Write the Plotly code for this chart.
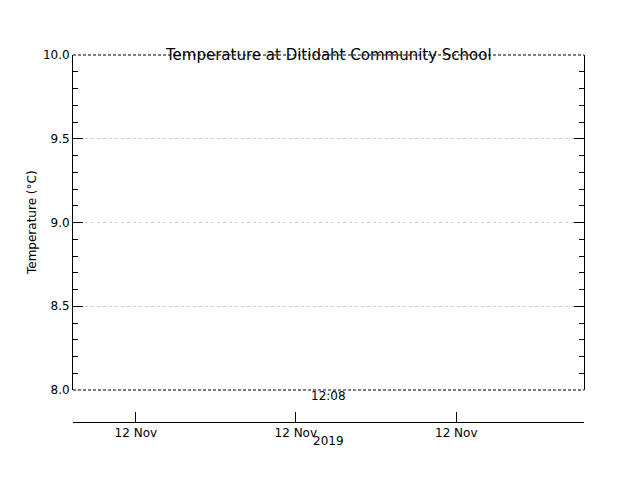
import plotly.graph_objects as go

title = "Temperature at Ditidaht Community School"
y_label = "Temperature (°C)"
y_ticks = [8.0, 8.5, 9.0, 9.5, 10.0]
x_tick_pos = [0.123, 0.436, 0.75]
x_tick_labels = ["12 Nov", "12 Nov", "12 Nov"]
time_label = "12:08"
year_label = "2019"

font = dict(family="DejaVu Sans", size=12, color="black")
fig = go.Figure()
fig.add_trace(go.Scatter(x=[], y=[], mode="lines", line=dict(color="black")))
fig.add_trace(go.Scatter(x=[], y=[], xaxis="x2", yaxis="y", showlegend=False))

H = 393
ydom0 = (440 - 382) / H
fig.update_layout(
    width=640, height=480, showlegend=False,
    plot_bgcolor="white", paper_bgcolor="white", font=font,
    margin=dict(l=65, r=64, t=47, b=40, autoexpand=False),
    xaxis=dict(range=[0, 1], showticklabels=False, ticks="", showgrid=False,
               zeroline=False, showline=False, automargin=False),
    yaxis=dict(domain=[ydom0, 1], range=[8.0, 10.0], tickvals=y_ticks,
               ticktext=[f"{v:.1f}" for v in y_ticks], ticks="inside", ticklen=10,
               tickcolor="black", mirror="ticks", showline=True, linecolor="black",
               showgrid=True, gridcolor="#d0d0d0", griddash="dot", zeroline=False,
               automargin=False,
               minor=dict(dtick=0.1, ticks="inside", ticklen=5, tickcolor="black")),
    xaxis2=dict(range=[0, 1], anchor="free", position=(440 - 414) / H,
                overlaying="x", tickvals=x_tick_pos, ticktext=x_tick_labels,
                ticks="inside", ticklen=10, tickcolor="black", showline=True,
                linecolor="black", showgrid=False, zeroline=False, side="bottom",
                automargin=False),
)
for yy in (0, 1):
    fig.add_shape(type="line", xref="x domain", yref="y domain", x0=0, x1=1, y0=yy, y1=yy,
                  line=dict(color="black", width=1, dash="3px,2px"))
fig.add_annotation(text=title, xref="paper", yref="paper", x=0.5, y=(440 - 36) / H,
                   showarrow=False, font=dict(size=15, family="DejaVu Sans"))
fig.add_annotation(text=y_label, xref="paper", yref="paper", x=(15 - 65) / 511,
                   y=(440 - 215) / H, textangle=-90, showarrow=False, font=font)
fig.add_annotation(text=time_label, xref="paper", yref="paper", x=0.5,
                   y=(440 - 397) / H, showarrow=False, font=font)
fig.add_annotation(text=year_label, xref="paper", yref="paper", x=0.5,
                   y=(440 - 442) / H, showarrow=False, font=font)
fig.write_html("out.html")
